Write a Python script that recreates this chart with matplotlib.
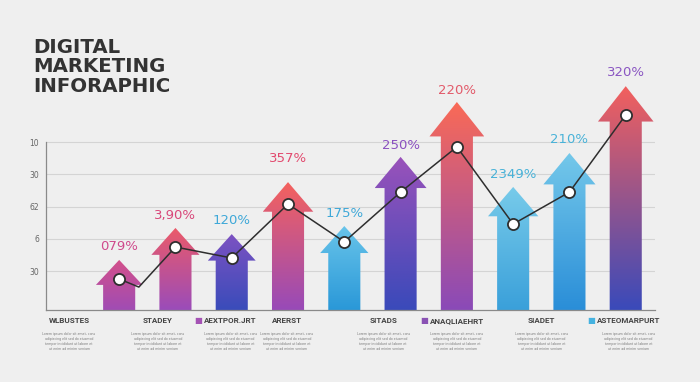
import matplotlib
matplotlib.use("Agg")
import matplotlib.pyplot as plt
import numpy as np
from matplotlib.patches import Polygon
from matplotlib.colors import to_rgb

# values (arbitrary units, 0 = baseline)
arrow_tops = [1.55, 2.54, 2.35, 3.96, 2.60, 4.74, 6.44, 3.81, 4.86, 6.93]
line_x = [0, 0.35, 1, 2, 3, 4, 5, 6, 7, 8, 9]
line_y = [0.96, 0.71, 1.95, 1.61, 3.28, 2.11, 3.65, 5.05, 2.66, 3.65, 6.04]
value_labels = ['079%', '3,90%', '120%', '357%', '175%', '250%', '220%',
                '2349%', '210%', '320%']
ytick_pos = [1.2, 2.2, 3.2, 4.2, 5.2]
ytick_labels = ['30', '6', '62', '30', '10']
cat_labels = ['WLBUSTES', 'STADEY', 'AEXTPOR.JRT', 'ARERST', 'SITADS',
              'ANAQLIAEHRT', 'SIADET', 'ASTEOMARPURT']
cat_x = [-0.89, 0.69, 1.98, 2.98, 4.69, 6.0, 7.50, 9.05]
cat_square = [None, None, '#a452b4', None, None, '#8a52b4', None, '#45b2e0']

# gradient colours (top, bottom) and label colours
grad = [('#d4508a', '#a04cb4'), ('#ec5a68', '#9a4cba'), ('#7c52c2', '#3a4cba'),
        ('#f4625e', '#984ab8'), ('#68c4ea', '#2a98d8'), ('#9a52ba', '#3a4aba'),
        ('#fa6a56', '#8a4ab8'), ('#78cbea', '#3aa0da'), ('#74c8ea', '#2a8ed8'),
        ('#f2605e', '#3a4aba')]
label_cols = ['#cf4a8c', '#d9477a', '#3ea8d8', '#e24a6e', '#3ea8d8', '#8a50c0',
              '#e25a6a', '#48b2d8', '#48b2d8', '#8a56c2']
label_gap = [0.42, 0.40, 0.41, 0.72, 0.38, 0.36, 0.36, 0.38, 0.42, 0.42]

lorem = ("Lorem ipsum dolor sit amet, cons\nadipiscing elit sed do eiusmod\n"
         "tempor incididunt ut labore et\nut enim ad minim veniam")

fig = plt.figure(figsize=(7, 3.82), dpi=100)
fig.patch.set_facecolor('#efefef')
ax = fig.add_axes([46 / 700, 72 / 382, 609 / 700, 250 / 382])
ax.set_facecolor('none')

bw = 0.57
for i, top in enumerate(arrow_tops):
    hw = 0.78 + 0.03 * top
    hl = 0.68 + 0.06 * top
    x = i
    pts = [(x - bw / 2, 0), (x - bw / 2, top - hl), (x - hw / 2, top - hl),
           (x, top), (x + hw / 2, top - hl), (x + bw / 2, top - hl),
           (x + bw / 2, 0)]
    poly = Polygon(pts, closed=True, facecolor='none', edgecolor='none')
    ax.add_patch(poly)
    c1 = np.array(to_rgb(grad[i][0]))
    c2 = np.array(to_rgb(grad[i][1]))
    t = np.linspace(0, 1, 128)[:, None]
    img = (c2 * (1 - t) + c1 * t)[:, None, :]
    im = ax.imshow(img, extent=[x - hw / 2, x + hw / 2, 0, top], origin='lower',
                   aspect='auto', zorder=2, interpolation='bilinear')
    im.set_clip_path(poly)
    ax.text(x, top + label_gap[i], value_labels[i], ha='center', va='center',
            fontsize=9.5, color=label_cols[i], family='DejaVu Sans')

ax.plot(line_x, line_y, color='#2e2e2e', lw=1.1, zorder=3)
ax.plot(line_x[:1] + line_x[2:], line_y[:1] + line_y[2:], 'o', ms=8,
        mfc='white', mec='#2e2e2e', mew=1.3, zorder=4)

ax.set_xlim(-1.30, 9.52)
ax.set_ylim(0, 250 / 32.3)
ax.set_yticks(ytick_pos)
ax.set_yticklabels(ytick_labels, fontsize=5.5, color='#666666')
ax.tick_params(axis='y', length=0, pad=5)
ax.set_xticks([])
ax.grid(axis='y', color='#d4d4d4', lw=0.8, zorder=0)
ax.set_axisbelow(True)
for s in ['top', 'right']:
    ax.spines[s].set_visible(False)
ax.spines['left'].set_bounds(0, 5.2)
ax.spines['left'].set_color('#8a8a8a')
ax.spines['bottom'].set_color('#8a8a8a')
ax.spines['left'].set_linewidth(0.9)
ax.spines['bottom'].set_linewidth(0.9)

for lab, cx, sq in zip(cat_labels, cat_x, cat_square):
    t = ax.text(cx, -0.33, lab, ha='center', va='center', fontsize=5.8,
                fontweight='bold', color='#444444', family='Roboto',
                stretch='condensed', clip_on=False)
    if sq:
        ax.annotate('\u25a0', xy=(0, 0.5), xycoords=t, xytext=(-1.5, 0),
                    textcoords='offset points', ha='right', va='center',
                    fontsize=6, color=sq, family='DejaVu Sans')
    ax.text(cx, -0.68, lorem, ha='center', va='top', fontsize=2.3,
            color='#7c7c7c', linespacing=1.3, clip_on=False)

fig.text(33 / 700, 1 - 38 / 382, 'DIGITAL\nMARKETING\nINFORAPHIC', ha='left',
         va='top', fontsize=14.2, fontweight='bold', color='#333333',
         linespacing=1.02, family='DejaVu Sans')

fig.savefig('out.png', dpi=100, facecolor=fig.get_facecolor())
